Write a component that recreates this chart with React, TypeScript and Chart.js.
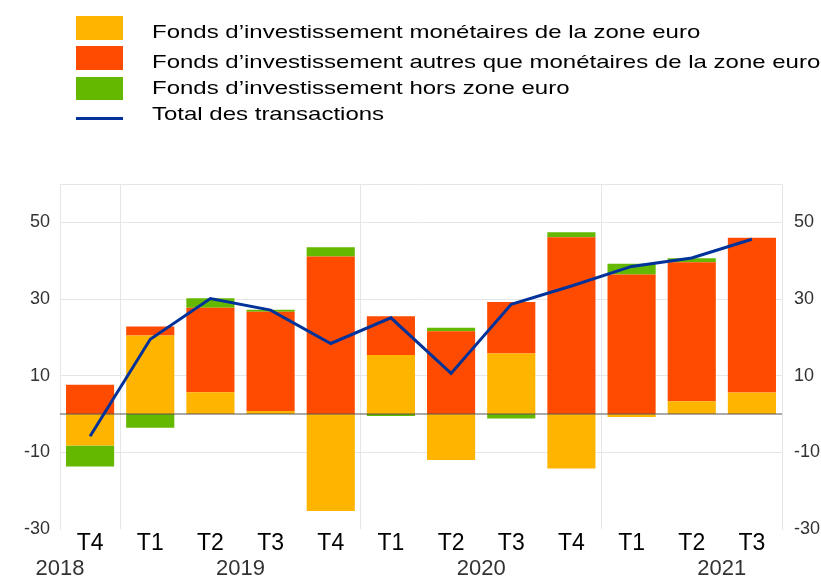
import React, { useEffect, useRef } from 'react';
import { Chart, registerables } from 'chart.js';

Chart.register(...registerables);

const FONT = "'Liberation Sans', Arial, Helvetica, sans-serif";

// Categories (quarters) and year groups
const quarters = ['T4', 'T1', 'T2', 'T3', 'T4', 'T1', 'T2', 'T3', 'T4', 'T1', 'T2', 'T3'];
const years = ['2018', '2019', '2020', '2021'];
// index of first quarter (T1) of each year on the category axis (virtual for 2018)
const yearFirstIndex = [-3, 1, 5, 9];

// Series values (EUR bn)
const monetaryEA = [-8.2, 20.5, 5.7, 0.8, -25.3, 15.4, -12.0, 15.8, -14.2, -0.8, 3.3, 5.6];
const nonMonetaryEA = [7.6, 2.3, 22.0, 25.9, 41.1, 10.1, 21.6, 13.4, 46.1, 36.4, 36.3, 40.4];
const nonEA = [-5.5, -3.6, 2.5, 0.5, 2.4, -0.5, 0.9, -1.2, 1.3, 2.8, 1.0, 0.0];
const totalTransactions = [-5.8, 19.5, 30.1, 27.1, 18.4, 25.1, 10.6, 28.6, 33.4, 38.5, 40.7, 45.6];

// Axis
const yTickValues = [-30, -10, 10, 30, 50];
const yMin = -30;
const yMax = 60;

// Legend labels
const seriesLabels = [
  'Fonds d\u2019investissement monétaires de la zone euro',
  'Fonds d\u2019investissement autres que monétaires de la zone euro',
  'Fonds d\u2019investissement hors zone euro',
  'Total des transactions',
];
const seriesColors = ['#FFB400', '#FF4B00', '#65B800', '#003299'];

const GRID = '#e6e6e6';

const yearPlugin = {
  id: 'yearLabels',
  afterDraw(chart: any) {
    const x = chart.scales.x;
    const area = chart.chartArea;
    const ctx = chart.ctx;
    const p0 = x.getPixelForValue(0);
    const step = x.getPixelForValue(1) - p0;
    ctx.save();
    ctx.font = `22px ${FONT}`;
    ctx.fillStyle = '#333333';
    ctx.textAlign = 'center';
    ctx.textBaseline = 'alphabetic';
    years.forEach((yr, i) => {
      const first = yearFirstIndex[i];
      let c = p0 + (first + 1.5) * step;
      if (c < area.left) c = area.left;
      ctx.fillText(yr, c, area.bottom + 46);
    });
    ctx.restore();
  },
};

const zeroLinePlugin = {
  id: 'zeroLine',
  beforeDatasetDraw(chart: any, args: any) {
    if (args.index !== 3) return;
    const y = chart.scales.y.getPixelForValue(0);
    const area = chart.chartArea;
    const ctx = chart.ctx;
    ctx.save();
    ctx.strokeStyle = '#555555';
    ctx.lineWidth = 1.2;
    ctx.beginPath();
    ctx.moveTo(area.left, y);
    ctx.lineTo(area.right, y);
    ctx.stroke();
    ctx.restore();
  },
};

const gridValues = [...yTickValues, yMax];

export default function App() {
  const ref = useRef<HTMLCanvasElement>(null);

  useEffect(() => {
    const canvas = ref.current;
    if (!canvas) return;
    const tickCallback = (v: any) => (yTickValues.includes(Number(v)) ? String(v) : '');
    const buildTicks = (s: any) => {
      s.ticks = gridValues.map((v) => ({ value: v }));
    };
    const chart = new Chart(canvas, {
      type: 'bar',
      data: {
        labels: quarters,
        datasets: [
          { type: 'bar', label: seriesLabels[0], data: monetaryEA, backgroundColor: seriesColors[0], stack: 'bars', order: 1, barPercentage: 0.8, categoryPercentage: 1 },
          { type: 'bar', label: seriesLabels[1], data: nonMonetaryEA, backgroundColor: seriesColors[1], stack: 'bars', order: 1, barPercentage: 0.8, categoryPercentage: 1 },
          { type: 'bar', label: seriesLabels[2], data: nonEA, backgroundColor: seriesColors[2], stack: 'bars', order: 1, barPercentage: 0.8, categoryPercentage: 1 },
          { type: 'line', label: seriesLabels[3], data: totalTransactions, borderColor: seriesColors[3], backgroundColor: seriesColors[3], borderWidth: 3, pointRadius: 0, tension: 0, stack: 'total', order: 0 } as any,
        ],
      },
      options: {
        animation: false,
        responsive: false,
        maintainAspectRatio: false,
        devicePixelRatio: 1,
        layout: { padding: { top: 184, left: 0, right: 0, bottom: 0 } },
        plugins: { legend: { display: false }, tooltip: { enabled: false }, title: { display: false } },
        scales: {
          x: {
            type: 'category',
            stacked: true,
            offset: true,
            afterFit: (s: any) => { s.height = 48; },
            grid: {
              offset: true,
              drawTicks: false,
              color: (c: any) => ([1, 5, 9].includes(c.index) ? GRID : 'rgba(0,0,0,0)'),
            },
            border: { display: false },
            ticks: { color: '#000000', font: { family: FONT, size: 23 }, padding: 1, maxRotation: 0, autoSkip: false },
          },
          y: {
            type: 'linear',
            position: 'left',
            stacked: true,
            min: yMin,
            max: yMax,
            afterBuildTicks: buildTicks,
            afterFit: (s: any) => { s.width = 60; },
            grid: {
              drawTicks: false,
              color: (c: any) => (c.tick && c.tick.value === yMin ? 'rgba(0,0,0,0)' : GRID),
            },
            border: { display: true, color: GRID },
            ticks: { color: '#333333', font: { family: FONT, size: 18 }, padding: 10, callback: tickCallback },
          },
          y2: {
            type: 'linear',
            position: 'right',
            min: yMin,
            max: yMax,
            afterBuildTicks: buildTicks,
            afterFit: (s: any) => { s.width = 39; },
            grid: { display: false, drawTicks: false },
            border: { display: true, color: GRID },
            ticks: { color: '#333333', font: { family: FONT, size: 18 }, padding: 12, callback: tickCallback },
          },
        },
      } as any,
      plugins: [yearPlugin, zeroLinePlugin],
    });
    return () => chart.destroy();
  }, []);

  const rowBaselines = [38.5, 68.3, 94, 120.5];
  const boxTops = [16, 46, 76.5];

  return (
    <div style={{ position: 'fixed', left: 0, top: 0, width: 821, height: 577, background: '#ffffff', overflow: 'hidden' }}>
      <canvas ref={ref} width={821} height={577} style={{ position: 'absolute', left: 0, top: 0, width: 821, height: 577 }} />
      {seriesLabels.map((lab, i) => (
        <React.Fragment key={i}>
          {i < 3 ? (
            <div style={{ position: 'absolute', left: 76, top: boxTops[i], width: 47, height: 23.5, background: seriesColors[i] }} />
          ) : (
            <div style={{ position: 'absolute', left: 76, top: 117, width: 47, height: 3, background: seriesColors[i] }} />
          )}
          <div
            style={{
              position: 'absolute',
              left: 152,
              top: rowBaselines[i] - 16.1,
              fontFamily: FONT,
              fontSize: 19,
              lineHeight: '19px',
              color: '#000000',
              whiteSpace: 'nowrap',
              transform: 'scaleX(1.263)',
              transformOrigin: 'left top',
            }}
          >
            {lab}
          </div>
        </React.Fragment>
      ))}
    </div>
  );
}
